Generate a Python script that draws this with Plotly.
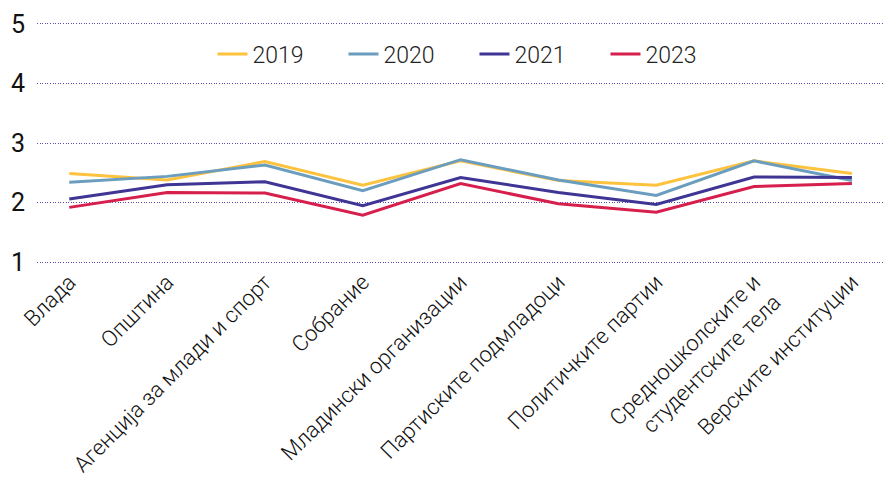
import plotly.graph_objects as go

categories = [
    "Влада",
    "Општина",
    "Агенција за млади и спорт",
    "Собрание",
    "Младински организации",
    "Партиските подмладоци",
    "Политичките партии",
    "Средношколските и<br>студентските тела",
    "Верските институции",
]
years = ["2019", "2020", "2021", "2023"]
v2019 = [2.49, 2.38, 2.69, 2.29, 2.70, 2.37, 2.29, 2.70, 2.49]
v2020 = [2.34, 2.44, 2.63, 2.20, 2.72, 2.38, 2.12, 2.70, 2.37]
v2021 = [2.06, 2.30, 2.35, 1.95, 2.42, 2.17, 1.97, 2.43, 2.42]
v2023 = [1.92, 2.17, 2.16, 1.79, 2.32, 1.98, 1.84, 2.27, 2.32]
y_ticks = [1, 2, 3, 4, 5]

series = [v2019, v2020, v2021, v2023]
colors = ["#FDC23E", "#6B9DBE", "#3F3594", "#D61F4C"]

fig = go.Figure()
for name, vals, col in zip(years, series, colors):
    fig.add_trace(go.Scatter(
        x=list(range(len(categories))), y=vals, name=name, mode="lines",
        line=dict(color=col, width=3),
    ))

fig.update_layout(
    width=885, height=474,
    margin=dict(l=29, r=0, t=14, b=218),
    paper_bgcolor="white", plot_bgcolor="white",
    legend=dict(orientation="h", x=0.205, xanchor="left", y=0.868, yanchor="middle",
                font=dict(family="Roboto, sans-serif", size=23, color="#222", weight=300),
                entrywidth=86, entrywidthmode="pixels", bgcolor="rgba(0,0,0,0)"),
    xaxis=dict(
        tickmode="array", tickvals=list(range(len(categories))), ticktext=categories,
        tickangle=-45, range=[-0.33, 8.42], showgrid=False, zeroline=False, showline=False,
        automargin=False,
        tickfont=dict(family="Roboto, sans-serif", size=22, color="#111", weight=300),
    ),
    yaxis=dict(
        range=[0.97, 5.03], tickvals=y_ticks, showgrid=True, gridcolor="#5B4DB5",
        griddash="1px,1.6px",
        gridwidth=1, zeroline=False, showline=False, ticks="outside", ticklen=6, tickcolor="white",
        automargin=False,
        tickfont=dict(family="Liberation Sans Narrow, Roboto, sans-serif", size=25, color="#111"),
    ),
    showlegend=True,
)
fig.write_html("out.html")
